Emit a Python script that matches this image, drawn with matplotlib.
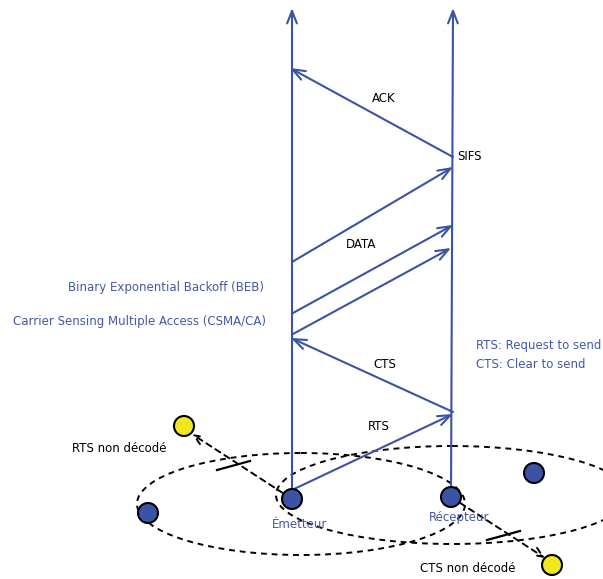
import matplotlib
matplotlib.use("Agg")
import matplotlib.pyplot as plt
from matplotlib.patches import Ellipse, Circle

BLUE = "#3a53a4"
TBLUE = "#4358a8"

# timelines (x_bottom, y_bottom, x_top, y_top)
timelines = [(292, 499, 292, 8), (451, 497, 453, 8)]

# messages: (x_start, y_start, x_end, y_end, label, label_x, label_y)
messages = [
    (292, 490, 453, 414, "RTS", 379, 426),
    (453, 412, 291, 338, "CTS", 385, 365),
    (293, 334, 451, 248, "", 0, 0),
    (293, 313, 453, 225, "", 0, 0),
    (292, 262, 453, 167, "DATA", 361, 245),
    (453, 157, 290, 68, "ACK", 384, 99),
]

# ellipses: (cx, cy, width, height)
ranges = [(301, 504, 328, 102), (452, 495, 352, 98)]

# nodes
blue_nodes = [(292, 499), (451, 497), (148, 513), (534, 473)]
yellow_nodes = [(184, 426), (552, 565)]

# failed links: (x0, y0, x1, y1, bar_x0, bar_y0, bar_x1, bar_y1)
failed = [
    (292, 499, 192, 434, 217, 470, 250, 461),
    (451, 497, 545, 558, 487, 540, 520, 531),
]

fig = plt.figure(figsize=(6.03, 5.79), dpi=100)
ax = fig.add_axes([0, 0, 1, 1])
ax.set_xlim(0, 603)
ax.set_ylim(579, 0)
ax.axis("off")

fs = 8.5

for (cx, cy, w, h) in ranges:
    ax.add_patch(Ellipse((cx, cy), w, h, fill=False, ls=(0, (3, 2.5)), lw=1.4, ec="black", zorder=1))

for (x0, y0, x1, y1) in timelines:
    ax.annotate("", xy=(x1, y1), xytext=(x0, y0),
                arrowprops=dict(arrowstyle="->,head_length=0.9,head_width=0.35", color=BLUE, lw=1.5,
                                shrinkA=0, shrinkB=0), zorder=2)

for (x0, y0, x1, y1, lab, lx, ly) in messages:
    ax.annotate("", xy=(x1, y1), xytext=(x0, y0),
                arrowprops=dict(arrowstyle="->,head_length=0.9,head_width=0.35", color=BLUE, lw=1.5,
                                shrinkA=0, shrinkB=0), zorder=2)
    if lab:
        ax.text(lx, ly, lab, fontsize=fs, ha="center", va="center", color="black")

ax.text(457, 157, "SIFS", fontsize=fs, ha="left", va="center", color="black")

for (x0, y0, x1, y1, bx0, by0, bx1, by1) in failed:
    ax.annotate("", xy=(x1, y1), xytext=(x0, y0),
                arrowprops=dict(arrowstyle="->,head_length=0.7,head_width=0.3", color="black", lw=1.4,
                                ls=(0, (3, 2.5)), shrinkA=0, shrinkB=0), zorder=3)
    ax.plot([bx0, bx1], [by0, by1], color="black", lw=1.6, zorder=3)

for (x, y) in blue_nodes:
    ax.add_patch(Circle((x, y), 10, fc=BLUE, ec="black", lw=1.5, zorder=4))
for (x, y) in yellow_nodes:
    ax.add_patch(Circle((x, y), 10, fc="#f0e81e", ec="black", lw=1.5, zorder=4))

ax.text(300, 524, "Émetteur", fontsize=fs, ha="center", va="center", color=TBLUE, zorder=5)
ax.text(459, 518, "Récepteur", fontsize=fs, ha="center", va="center", color=TBLUE, zorder=5)
ax.text(167, 448, "RTS non décodé", fontsize=fs, ha="right", va="center", color="black")
ax.text(468, 569, "CTS non décodé", fontsize=fs, ha="center", va="center", color="black")

ax.text(264, 287, "Binary Exponential Backoff (BEB)", fontsize=fs, ha="right", va="center", color=TBLUE)
ax.text(266, 321, "Carrier Sensing Multiple Access (CSMA/CA)", fontsize=fs, ha="right", va="center", color=TBLUE)
ax.text(476, 345, "RTS: Request to send", fontsize=fs, ha="left", va="center", color=TBLUE)
ax.text(476, 364, "CTS: Clear to send", fontsize=fs, ha="left", va="center", color=TBLUE)

fig.savefig("out.png", dpi=100)
